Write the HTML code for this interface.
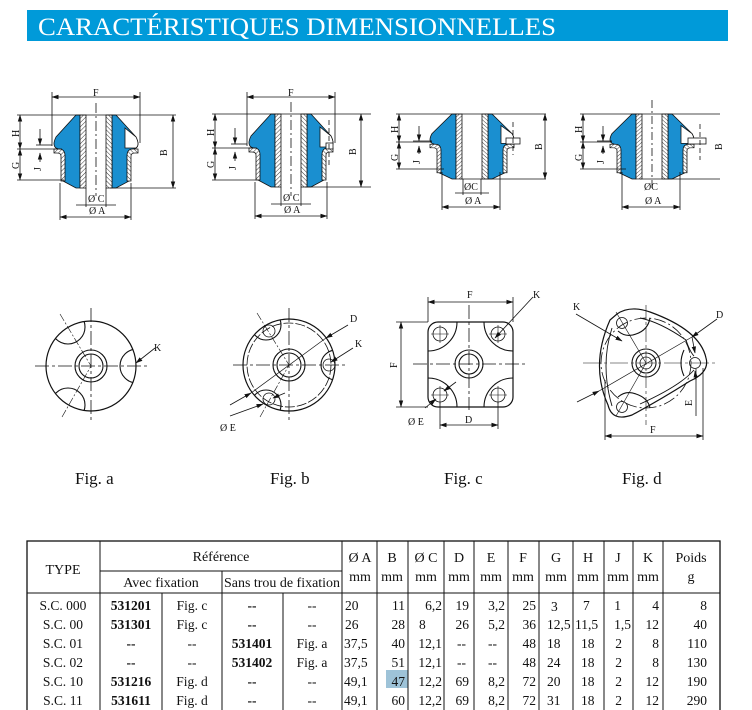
<!DOCTYPE html>
<html><head><meta charset="utf-8"><style>
html,body{margin:0;padding:0;background:#fff;}
svg{display:block;}
text{font-family:"Liberation Serif",serif;fill:#111;}
</style></head><body>
<svg width="752" height="710" viewBox="0 0 752 710" xmlns="http://www.w3.org/2000/svg">
<defs>
<pattern id="h" width="3" height="3" patternUnits="userSpaceOnUse" patternTransform="rotate(45)">
<rect width="3" height="3" fill="#fff"/><line x1="0" y1="0" x2="0" y2="3" stroke="#222" stroke-width="0.9"/></pattern>
<marker id="a" markerWidth="7" markerHeight="6" refX="6.5" refY="3" orient="auto-start-reverse" markerUnits="userSpaceOnUse">
<path d="M0,0.8 L7,3 L0,5.2 Z" fill="#111"/></marker>
<g id="half">
<path d="M-16,0 L-20,0 L-40,22 Q-44,30 -40,33 L-33,36 L-33,66 L-20,73 L-16,73 Z" fill="#1a8fd0" stroke="#111" stroke-width="0.8"/>
<path d="M-42,34 L-37,34 Q-31,34 -31,41 L-31,66 L-35,66 L-35,41 Q-35,38 -39,38 L-42,38 Z" fill="url(#h)" stroke="#111" stroke-width="0.8"/>
<rect x="-16" y="0" width="6" height="73" fill="url(#h)" stroke="#111" stroke-width="0.8"/>
</g>
<g id="halfW">
<path d="M-16,0 L-20,0 L-40,22 Q-44,30 -40,33 L-33,36 L-33,66 L-20,73 L-16,73 Z" fill="#1a8fd0" stroke="#111" stroke-width="0.8"/>
<path d="M-29,13 L-40,22 Q-44,30 -40,33 L-29,33 Z" fill="#fff" stroke="#111" stroke-width="0.8"/>
<path d="M-42,34 L-37,34 Q-31,34 -31,41 L-31,66 L-35,66 L-35,41 Q-35,38 -39,38 L-42,38 Z" fill="url(#h)" stroke="#111" stroke-width="0.8"/>
<rect x="-16" y="0" width="6" height="73" fill="url(#h)" stroke="#111" stroke-width="0.8"/>
</g>
<clipPath id="ca"><circle cx="91" cy="366" r="45"/></clipPath>
<clipPath id="cb"><circle cx="289" cy="365" r="46"/></clipPath>
<clipPath id="cc"><rect x="428" y="322" width="85" height="85" rx="10"/></clipPath>
</defs>

<!-- title -->
<rect x="27" y="10" width="701" height="31" fill="#009ad9"/>
<text x="38" y="35" font-size="25" style="fill:#fff" textLength="518" lengthAdjust="spacingAndGlyphs">CARACTÉRISTIQUES DIMENSIONNELLES</text>

<g stroke="#111" stroke-width="0.8" fill="none">
<!-- FIG 1 section -->
<g transform="translate(96,115)"><use href="#half"/><use href="#halfW" transform="scale(-1,1)"/></g>
<line x1="17" y1="115" x2="176" y2="115"/>
<line x1="110" y1="188" x2="176" y2="188"/><line x1="17" y1="149" x2="62" y2="149"/><line x1="17" y1="180" x2="64" y2="180"/>
<line x1="52" y1="92" x2="52" y2="146"/><line x1="140" y1="92" x2="140" y2="143"/>
<line x1="52" y1="97" x2="140" y2="97" marker-start="url(#a)" marker-end="url(#a)"/>
<line x1="173" y1="115" x2="173" y2="188" marker-start="url(#a)" marker-end="url(#a)"/>
<line x1="20" y1="115" x2="20" y2="149" marker-start="url(#a)" marker-end="url(#a)"/>
<line x1="20" y1="149" x2="20" y2="180" marker-start="url(#a)" marker-end="url(#a)"/>
<line x1="40" y1="129" x2="40" y2="145" marker-end="url(#a)"/><line x1="40" y1="162" x2="40" y2="153" marker-end="url(#a)"/>
<line x1="36" y1="145" x2="52" y2="145"/>
<line x1="86" y1="188" x2="86" y2="207"/><line x1="106" y1="188" x2="106" y2="207"/>
<line x1="76" y1="205" x2="116" y2="205"/>
<line x1="60" y1="183" x2="60" y2="220"/><line x1="131" y1="183" x2="131" y2="220"/>
<line x1="60" y1="217" x2="131" y2="217" marker-start="url(#a)" marker-end="url(#a)"/>
<line x1="96" y1="103" x2="96" y2="196" stroke-dasharray="10,3,2,3"/>

<!-- FIG 2 section -->
<g transform="translate(291,114)"><use href="#half"/><use href="#halfW" transform="scale(-1,1)"/></g>
<rect x="326" y="143" width="7" height="6" fill="#fff"/>
<line x1="329" y1="120" x2="329" y2="165" stroke-dasharray="5,3"/>
<line x1="212" y1="114" x2="371" y2="114"/>
<line x1="305" y1="187" x2="371" y2="187"/><line x1="212" y1="148" x2="257" y2="148"/><line x1="212" y1="180" x2="259" y2="180"/>
<line x1="247" y1="92" x2="247" y2="146"/><line x1="335" y1="92" x2="335" y2="143"/>
<line x1="247" y1="97" x2="335" y2="97" marker-start="url(#a)" marker-end="url(#a)"/>
<line x1="361" y1="114" x2="361" y2="187" marker-start="url(#a)" marker-end="url(#a)"/>
<line x1="215" y1="114" x2="215" y2="148" marker-start="url(#a)" marker-end="url(#a)"/>
<line x1="215" y1="148" x2="215" y2="180" marker-start="url(#a)" marker-end="url(#a)"/>
<line x1="235" y1="128" x2="235" y2="144" marker-end="url(#a)"/><line x1="235" y1="161" x2="235" y2="152" marker-end="url(#a)"/>
<line x1="231" y1="144" x2="247" y2="144"/>
<line x1="281" y1="187" x2="281" y2="206"/><line x1="301" y1="187" x2="301" y2="206"/>
<line x1="271" y1="204" x2="311" y2="204"/>
<line x1="255" y1="182" x2="255" y2="219"/><line x1="327" y1="182" x2="327" y2="219"/>
<line x1="255" y1="216" x2="327" y2="216" marker-start="url(#a)" marker-end="url(#a)"/>
<line x1="291" y1="102" x2="291" y2="196" stroke-dasharray="10,3,2,3"/>

<!-- FIG 3 section -->
<g transform="translate(472,114) scale(1.0,0.89)"><use href="#half"/><use href="#halfW" transform="scale(-1,1)"/></g>
<rect x="506" y="138" width="14" height="6" fill="#fff"/>
<line x1="513" y1="122" x2="513" y2="155" stroke-dasharray="5,3"/>
<line x1="396" y1="114" x2="546" y2="114"/>
<line x1="460" y1="179" x2="546" y2="179"/><line x1="396" y1="142" x2="432" y2="142"/><line x1="396" y1="169" x2="444" y2="169"/>
<line x1="545" y1="114" x2="545" y2="179" marker-start="url(#a)" marker-end="url(#a)"/>
<line x1="399" y1="114" x2="399" y2="142" marker-start="url(#a)" marker-end="url(#a)"/>
<line x1="399" y1="142" x2="399" y2="169" marker-start="url(#a)" marker-end="url(#a)"/>
<line x1="419" y1="126" x2="419" y2="141" marker-end="url(#a)"/><line x1="419" y1="154" x2="419" y2="146" marker-end="url(#a)"/>
<line x1="413" y1="141" x2="432" y2="141"/>
<line x1="463" y1="179" x2="463" y2="195"/><line x1="481" y1="179" x2="481" y2="195"/>
<line x1="455" y1="193" x2="489" y2="193"/>
<line x1="442" y1="172" x2="442" y2="210"/><line x1="500" y1="172" x2="500" y2="210"/>
<line x1="442" y1="207" x2="500" y2="207" marker-start="url(#a)" marker-end="url(#a)"/>

<!-- FIG 4 section -->
<g transform="translate(652,114) scale(1.0,0.89)"><use href="#half"/><use href="#halfW" transform="scale(-1,1)"/></g>
<rect x="688" y="138" width="18" height="6" fill="#fff"/>
<line x1="700" y1="124" x2="700" y2="160" stroke-dasharray="5,3"/>
<line x1="580" y1="114" x2="720" y2="114"/>
<line x1="640" y1="179" x2="720" y2="179"/><line x1="580" y1="142" x2="612" y2="142"/><line x1="580" y1="169" x2="626" y2="169"/>
<line x1="583" y1="114" x2="583" y2="142" marker-start="url(#a)" marker-end="url(#a)"/>
<line x1="583" y1="142" x2="583" y2="169" marker-start="url(#a)" marker-end="url(#a)"/>
<line x1="603" y1="126" x2="603" y2="141" marker-end="url(#a)"/><line x1="603" y1="154" x2="603" y2="146" marker-end="url(#a)"/>
<line x1="597" y1="141" x2="612" y2="141"/>
<line x1="622" y1="172" x2="622" y2="210"/><line x1="680" y1="172" x2="680" y2="210"/>
<line x1="622" y1="207" x2="680" y2="207" marker-start="url(#a)" marker-end="url(#a)"/>
<line x1="652" y1="100" x2="652" y2="190" stroke-dasharray="8,3,2,3"/>

<!-- FIG a -->
<circle cx="91" cy="366" r="45" stroke-width="1.2"/>
<circle cx="91" cy="366" r="16" stroke-width="1.1"/><circle cx="91" cy="366" r="12" stroke-width="1.1"/>
<g clip-path="url(#ca)" stroke-width="1.1"><circle cx="137" cy="366" r="17"/><circle cx="68" cy="327" r="17"/><circle cx="68" cy="405" r="17"/></g>
<line x1="35" y1="366" x2="148" y2="366" stroke-dasharray="14,3,3,3"/>
<line x1="91" y1="308" x2="91" y2="420" stroke-dasharray="14,3,3,3"/>
<line x1="60" y1="314" x2="91" y2="366" stroke-dasharray="8,2,2,2" stroke-width="0.6"/>
<line x1="62" y1="417" x2="91" y2="366" stroke-dasharray="8,2,2,2" stroke-width="0.6"/>
<line x1="155" y1="348" x2="136" y2="363" marker-end="url(#a)"/>

<!-- FIG b -->
<circle cx="289" cy="365" r="46" stroke-width="1.2"/>
<circle cx="289" cy="365" r="42" stroke-dasharray="10,2"/>
<circle cx="289" cy="365" r="16" stroke-width="1.1"/><circle cx="289" cy="365" r="12" stroke-width="1.1"/>
<g clip-path="url(#cb)" stroke-width="1.1"><circle cx="336" cy="365" r="15"/><circle cx="266" cy="325" r="15"/><circle cx="266" cy="405" r="15"/></g>
<circle cx="329" cy="365" r="6"/><circle cx="269" cy="331" r="6"/><circle cx="269" cy="399" r="6"/>
<line x1="233" y1="365" x2="346" y2="365" stroke-dasharray="14,3,3,3"/>
<line x1="289" y1="308" x2="289" y2="420" stroke-dasharray="14,3,3,3"/>
<line x1="257" y1="313" x2="289" y2="365" stroke-dasharray="8,2,2,2" stroke-width="0.6"/>
<line x1="260" y1="417" x2="289" y2="365" stroke-dasharray="8,2,2,2" stroke-width="0.6"/>
<line x1="348" y1="325" x2="326" y2="338" marker-end="url(#a)"/>
<line x1="230" y1="405" x2="251" y2="393" marker-end="url(#a)"/>
<line x1="251" y1="393" x2="326" y2="338" stroke-width="0.7"/>
<line x1="353" y1="348" x2="331" y2="362" marker-end="url(#a)"/>
<line x1="230" y1="416" x2="263" y2="404" marker-end="url(#a)"/>
<line x1="285" y1="393" x2="273" y2="398" marker-end="url(#a)"/>

<!-- FIG c -->
<rect x="428" y="322" width="85" height="85" rx="10" stroke-width="1.2"/>
<g clip-path="url(#cc)" stroke-width="1.1"><circle cx="428" cy="322" r="29" fill="none"/><circle cx="513" cy="322" r="29"/><circle cx="428" cy="407" r="29"/><circle cx="513" cy="407" r="29"/></g>
<rect x="431" y="325" width="79" height="79" fill="none" stroke="none"/>
<circle cx="440" cy="334" r="7"/><circle cx="498" cy="334" r="7"/><circle cx="440" cy="395" r="7"/><circle cx="498" cy="395" r="7"/>
<g stroke-width="0.6"><line x1="431" y1="334" x2="449" y2="334"/><line x1="440" y1="325" x2="440" y2="343"/><line x1="489" y1="334" x2="507" y2="334"/><line x1="498" y1="325" x2="498" y2="343"/><line x1="431" y1="395" x2="449" y2="395"/><line x1="440" y1="386" x2="440" y2="404"/><line x1="489" y1="395" x2="507" y2="395"/><line x1="498" y1="386" x2="498" y2="404"/></g>
<circle cx="469" cy="364" r="14" stroke-width="1.1"/><circle cx="469" cy="364" r="10" stroke-width="1.1"/>
<line x1="413" y1="364" x2="526" y2="364" stroke-dasharray="14,3,3,3"/>
<line x1="469" y1="305" x2="469" y2="410" stroke-dasharray="14,3,3,3"/>
<line x1="428" y1="297" x2="428" y2="322"/><line x1="513" y1="297" x2="513" y2="322"/>
<line x1="428" y1="302" x2="513" y2="302" marker-start="url(#a)" marker-end="url(#a)"/>
<line x1="396" y1="322" x2="428" y2="322"/><line x1="396" y1="407" x2="428" y2="407"/>
<line x1="401" y1="322" x2="401" y2="407" marker-start="url(#a)" marker-end="url(#a)"/>
<line x1="440" y1="402" x2="440" y2="429"/><line x1="498" y1="402" x2="498" y2="429"/>
<line x1="440" y1="425" x2="498" y2="425" marker-start="url(#a)" marker-end="url(#a)"/>
<line x1="533" y1="297" x2="495" y2="338" marker-end="url(#a)"/>
<line x1="425" y1="408" x2="436" y2="399" marker-end="url(#a)"/><line x1="456" y1="382" x2="444" y2="391" marker-end="url(#a)"/>

<!-- FIG d -->
<path d="M617,314 Q630,305 650,312 Q700,330 706,358 Q710,372 690,381 Q660,400 632,415 Q612,422 608,405 Q590,365 610,320 Z" stroke-width="1.2"/>
<path d="M640,318 Q660,322 686,340 Q690,352 694,356 M694,370 Q680,386 640,404 M612,406 Q600,365 612,328" stroke-width="0.9"/>
<path d="M618,331 Q626,338 636,334 Q648,330 650,318 M684,350 Q678,363 684,376 M618,397 Q626,390 636,394 Q648,398 650,408" stroke-width="1.1"/>
<circle cx="646" cy="363" r="45" stroke-dasharray="12,3,2,3" stroke-width="0.8"/>
<circle cx="646" cy="363" r="14" stroke-width="1.1"/><circle cx="646" cy="363" r="10" stroke-width="1.1"/><circle cx="646" cy="363" r="6"/>
<circle cx="695" cy="363" r="5.5"/><circle cx="622" cy="323" r="5.5"/><circle cx="622" cy="407" r="5.5"/>
<line x1="583" y1="363" x2="718" y2="363" stroke-dasharray="18,3,3,3" stroke-width="0.6"/>
<line x1="646" y1="305" x2="646" y2="425" stroke-dasharray="14,3,3,3" stroke-width="0.6"/>
<line x1="616" y1="312" x2="646" y2="363" stroke-width="0.6"/><line x1="616" y1="416" x2="646" y2="363" stroke-width="0.6"/>
<line x1="576" y1="314" x2="622" y2="341" marker-end="url(#a)"/>
<line x1="717" y1="319" x2="692" y2="337" marker-end="url(#a)"/>
<line x1="577" y1="402" x2="599" y2="391" marker-end="url(#a)"/>
<line x1="599" y1="391" x2="692" y2="337" stroke-width="0.7"/>
<line x1="692" y1="337" x2="695" y2="353" marker-end="url(#a)"/>
<line x1="696" y1="380" x2="695" y2="371" marker-end="url(#a)"/>
<line x1="696" y1="369" x2="696" y2="416"/>
<line x1="605" y1="380" x2="605" y2="440"/><line x1="703" y1="368" x2="703" y2="440"/>
<line x1="605" y1="436" x2="703" y2="436" marker-start="url(#a)" marker-end="url(#a)"/>
</g>

<!-- drawing labels -->
<g font-size="10">
<text x="93" y="96">F</text><text x="288" y="96">F</text>
<text x="88" y="202">Ø C</text><text x="89" y="214">Ø A</text>
<text x="283" y="201">Ø C</text><text x="284" y="213">Ø A</text>
<text x="464" y="190">ØC</text><text x="465" y="204">Ø A</text>
<text x="644" y="190">ØC</text><text x="645" y="204">Ø A</text>
<text transform="translate(19,137) rotate(-90)">H</text><text transform="translate(19,169) rotate(-90)">G</text>
<text transform="translate(41,171) rotate(-90)">J</text><text transform="translate(167,156) rotate(-90)">B</text>
<text transform="translate(214,136) rotate(-90)">H</text><text transform="translate(214,168) rotate(-90)">G</text>
<text transform="translate(236,170) rotate(-90)">J</text><text transform="translate(356,155) rotate(-90)">B</text>
<text transform="translate(398,133) rotate(-90)">H</text><text transform="translate(398,161) rotate(-90)">G</text>
<text transform="translate(420,164) rotate(-90)">J</text><text transform="translate(542,150) rotate(-90)">B</text>
<text transform="translate(582,133) rotate(-90)">H</text><text transform="translate(582,161) rotate(-90)">G</text>
<text transform="translate(604,164) rotate(-90)">J</text><text transform="translate(722,150) rotate(-90)">B</text>
<text x="154" y="351">K</text>
<text x="350" y="322">D</text><text x="355" y="347">K</text><text x="220" y="431">Ø E</text>
<text x="467" y="298">F</text><text x="533" y="298">K</text><text transform="translate(397,368) rotate(-90)">F</text>
<text x="408" y="425">Ø E</text><text x="465" y="423">D</text>
<text x="573" y="310">K</text><text x="716" y="318">D</text><text transform="translate(692,406) rotate(-90)">E</text><text x="650" y="433">F</text>
</g>
<g font-size="17"><text x="75" y="484">Fig. a</text><text x="270" y="484">Fig. b</text><text x="444" y="484">Fig. c</text><text x="622" y="484">Fig. d</text></g>

<!-- TABLE -->
<rect x="386" y="670" width="22" height="18" fill="#9ec3d8"/>
<g stroke="#111" stroke-width="1" fill="none">
<rect x="27" y="541" width="693" height="175" stroke-width="1.3"/>
<line x1="27" y1="593" x2="720" y2="593"/>
<line x1="100" y1="571" x2="342" y2="571"/>
<line x1="100" y1="541" x2="100" y2="710"/>
<line x1="162" y1="593" x2="162" y2="710"/>
<line x1="222" y1="571" x2="222" y2="710"/>
<line x1="283" y1="593" x2="283" y2="710"/>
<line x1="342" y1="541" x2="342" y2="710"/>
<line x1="377" y1="541" x2="377" y2="710"/><line x1="408" y1="541" x2="408" y2="710"/>
<line x1="444" y1="541" x2="444" y2="710"/><line x1="474" y1="541" x2="474" y2="710"/>
<line x1="508" y1="541" x2="508" y2="710"/><line x1="539" y1="541" x2="539" y2="710"/>
<line x1="573" y1="541" x2="573" y2="710"/><line x1="604" y1="541" x2="604" y2="710"/>
<line x1="633" y1="541" x2="633" y2="710"/><line x1="663" y1="541" x2="663" y2="710"/>
</g>
<g font-size="14" text-anchor="middle">
<text x="63" y="574">TYPE</text><text x="221" y="561">Référence</text>
<text x="161" y="587">Avec fixation</text><text x="282" y="587" textLength="116" lengthAdjust="spacingAndGlyphs">Sans trou de fixation</text>
<text x="360" y="562">Ø A</text><text x="392" y="562">B</text><text x="426" y="562">Ø C</text><text x="459" y="562">D</text><text x="491" y="562">E</text><text x="523" y="562">F</text><text x="556" y="562">G</text><text x="588" y="562">H</text><text x="618" y="562">J</text><text x="648" y="562">K</text><text x="691" y="562">Poids</text>
<text x="360" y="581">mm</text><text x="392" y="581">mm</text><text x="426" y="581">mm</text><text x="459" y="581">mm</text><text x="491" y="581">mm</text><text x="523" y="581">mm</text><text x="556" y="581">mm</text><text x="588" y="581">mm</text><text x="618" y="581">mm</text><text x="648" y="581">mm</text><text x="691" y="581">g</text>
</g>
<g font-size="13.5">
<g text-anchor="middle">
<text x="63" y="610">S.C. 000</text><text x="63" y="629">S.C. 00</text><text x="63" y="648">S.C. 01</text><text x="63" y="667">S.C. 02</text><text x="63" y="686">S.C. 10</text><text x="63" y="705">S.C. 11</text>
<g font-weight="bold"><text x="131" y="610">531201</text><text x="131" y="629">531301</text><text x="131" y="648">--</text><text x="131" y="667">--</text><text x="131" y="686">531216</text><text x="131" y="705">531611</text>
<text x="252" y="610">--</text><text x="252" y="629">--</text><text x="252" y="648">531401</text><text x="252" y="667">531402</text><text x="252" y="686">--</text><text x="252" y="705">--</text></g>
<text x="192" y="610">Fig. c</text><text x="192" y="629">Fig. c</text><text x="192" y="648">--</text><text x="192" y="667">--</text><text x="192" y="686">Fig. d</text><text x="192" y="705">Fig. d</text>
<text x="312" y="610">--</text><text x="312" y="629">--</text><text x="312" y="648">Fig. a</text><text x="312" y="667">Fig. a</text><text x="312" y="686">--</text><text x="312" y="705">--</text>
</g>
<g>
<text x="345" y="610">20</text><text x="345" y="629">26</text><text x="344" y="648">37,5</text><text x="344" y="667">37,5</text><text x="344" y="686">49,1</text><text x="344" y="705">49,1</text>
</g>
<g text-anchor="end">
<text x="405" y="610">11</text><text x="405" y="629">28</text><text x="405" y="648">40</text><text x="405" y="667">51</text><text x="405" y="686">47</text><text x="405" y="705">60</text>
<text x="442" y="610">6,2</text><text x="419" y="629" text-anchor="start">8</text><text x="442" y="648">12,1</text><text x="442" y="667">12,1</text><text x="442" y="686">12,2</text><text x="442" y="705">12,2</text>
<text x="469" y="610">19</text><text x="469" y="629">26</text><text x="466" y="648">--</text><text x="466" y="667">--</text><text x="469" y="686">69</text><text x="469" y="705">69</text>
<text x="505" y="610">3,2</text><text x="505" y="629">5,2</text><text x="497" y="648">--</text><text x="497" y="667">--</text><text x="505" y="686">8,2</text><text x="505" y="705">8,2</text>
<text x="536" y="610">25</text><text x="536" y="629">36</text><text x="536" y="648">48</text><text x="536" y="667">48</text><text x="536" y="686">72</text><text x="536" y="705">72</text>
<text x="730" y="0"></text>
</g>
<g>
<text x="551" y="611">3</text><text x="547" y="629">12,5</text><text x="547" y="648">18</text><text x="547" y="667">24</text><text x="547" y="686">20</text><text x="547" y="705">31</text>
<text x="583" y="610">7</text><text x="575" y="629">11,5</text><text x="581" y="648">18</text><text x="581" y="667">18</text><text x="581" y="686">18</text><text x="581" y="705">18</text>
</g>
<g text-anchor="end">
<text x="621" y="610">1</text><text x="631" y="629">1,5</text><text x="622" y="648">2</text><text x="622" y="667">2</text><text x="622" y="686">2</text><text x="622" y="705">2</text>
<text x="659" y="610">4</text><text x="659" y="629">12</text><text x="659" y="648">8</text><text x="659" y="667">8</text><text x="659" y="686">12</text><text x="659" y="705">12</text>
<text x="707" y="610">8</text><text x="707" y="629">40</text><text x="707" y="648">110</text><text x="707" y="667">130</text><text x="707" y="686">190</text><text x="707" y="705">290</text>
</g>
</g>
</svg>
</body></html>
